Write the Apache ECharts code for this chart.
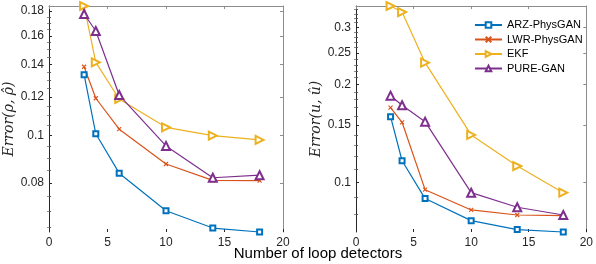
<!DOCTYPE html>
<html>
<head>
<meta charset="utf-8">
<script src="https://cdn.jsdelivr.net/npm/echarts@6/dist/echarts.min.js"></script>
<style>html,body{margin:0;padding:0;background:#fff}#c{width:596px;height:264px}</style>
</head>
<body>
<div id="c"></div>
<script>
// ---- data ----
var detectors = [3, 4, 6, 10, 14, 18];
var seriesNames = ['ARZ-PhysGAN', 'LWR-PhysGAN', 'EKF', 'PURE-GAN'];
var rhoARZ  = [0.1333, 0.1009, 0.0838, 0.0702, 0.0647, 0.0635];
var rhoLWR  = [0.1384, 0.1193, 0.1031, 0.0875, 0.0810, 0.0809];
var rhoEKF  = [0.1843, 0.1413, 0.1189, 0.1040, 0.1000, 0.0980];
var rhoPURE = [0.1775, 0.1638, 0.1211, 0.0953, 0.0820, 0.0830];
var uARZ  = [0.1592, 0.1165, 0.0891, 0.0762, 0.0715, 0.0703];
var uLWR  = [0.1697, 0.1530, 0.0949, 0.0822, 0.0793, 0.0789];
var uEKF  = [0.3490, 0.3344, 0.2335, 0.1399, 0.1122, 0.0929];
var uPURE = [0.1848, 0.1726, 0.1537, 0.0929, 0.0838, 0.0793];
var rhoTicks = [0.08, 0.1, 0.12, 0.14, 0.16, 0.18];
var uTicks = [0.1, 0.15, 0.2, 0.25, 0.3];
var xTickLabels = [0, 5, 10, 15, 20];
var xAxisTitle = 'Number of loop detectors';
var rhoTitle = 'Error(ρ, ρ̂)';
var uTitle = 'Error(u, û)';

// ---- styling ----
var colors = ['#0072BD', '#D95319', '#EDB120', '#7E2F8E'];
var FONT = 'Liberation Sans, Arial, Helvetica, sans-serif';
var dark = '#262626';
var gray = '#8c8c8c';

function minorList(lo, hi, step, majors) {
  var out = [];
  for (var k = Math.ceil(lo / step - 1e-9); k * step <= hi + 1e-9; k++) {
    var v = +(k * step).toFixed(4);
    if (majors.indexOf(v) < 0) out.push(v);
  }
  return out;
}
function fmt(v) { return String(+(+v).toPrecision(3)); }

var rhoAll = rhoARZ.concat(rhoLWR, rhoEKF, rhoPURE);
var uAll = uARZ.concat(uLWR, uEKF, uPURE);
var rhoMin = Math.min.apply(null, rhoAll), rhoMax = Math.max.apply(null, rhoAll);
var uMin = Math.min.apply(null, uAll), uMax = Math.max.apply(null, uAll);
var rhoMinor = minorList(rhoMin, rhoMax, 0.005, rhoTicks);
var uMinor = minorList(uMin, uMax, 0.01, uTicks);

var grids = [
  { left: 49, top: 6, width: 234, height: 226 },
  { left: 356, top: 6, width: 233, height: 226 }
];

var xAxes = [], yAxes = [];
[0, 1].forEach(function (g) {
  xAxes.push({
    type: 'value', gridIndex: g, min: 0, max: 20, interval: 5, position: 'bottom',
    axisLine: { show: false },
    axisTick: { show: true, inside: true, length: 3, lineStyle: { color: dark } },
    axisLabel: { show: true, color: dark, fontFamily: FONT, fontSize: 12, margin: 5,
      customValues: xTickLabels },
    splitLine: { show: false }
  });
  xAxes.push({
    type: 'value', gridIndex: g, min: 0, max: 20, interval: 5, position: 'top',
    axisLine: { show: true, onZero: false, lineStyle: { color: gray, width: 1 } },
    axisTick: { show: true, inside: true, length: 3, lineStyle: { color: gray } },
    axisLabel: { show: false }, splitLine: { show: false }
  });
});

function addY(g, lo, hi, majors, minors, title, gap) {
  var base = yAxes.length;
  yAxes.push({
    type: 'log', gridIndex: g, min: lo, max: hi, position: 'left',
    name: title, nameLocation: 'middle', nameGap: gap,
    nameTextStyle: { fontFamily: 'DejaVu Serif, serif', fontStyle: 'italic', fontSize: 14, color: dark },
    axisLine: { show: true, onZero: false, lineStyle: { color: dark, width: 1 } },
    axisTick: { show: true, inside: true, length: 3, customValues: majors, lineStyle: { color: dark } },
    axisLabel: { show: true, customValues: majors, formatter: fmt, color: dark, fontFamily: FONT, fontSize: 12, margin: 5 },
    splitLine: { show: false }
  });
  yAxes.push({
    type: 'log', gridIndex: g, min: lo, max: hi, position: 'left',
    axisLine: { show: false },
    axisTick: { show: true, inside: true, length: 2, customValues: minors, lineStyle: { color: '#555' } },
    axisLabel: { show: false }, splitLine: { show: false }
  });
  yAxes.push({
    type: 'log', gridIndex: g, min: lo, max: hi, position: 'right',
    axisLine: { show: true, onZero: false, lineStyle: { color: gray, width: 1 } },
    axisTick: { show: true, inside: true, length: 3, customValues: majors, lineStyle: { color: gray } },
    axisLabel: { show: false }, splitLine: { show: false }
  });
  yAxes.push({
    type: 'log', gridIndex: g, min: lo, max: hi, position: 'right',
    axisLine: { show: false },
    axisTick: { show: true, inside: true, length: 2, customValues: minors, lineStyle: { color: '#888' } },
    axisLabel: { show: false }, splitLine: { show: false }
  });
  return base;
}
var yRho = addY(0, rhoMin, rhoMax, rhoTicks, rhoMinor, rhoTitle, 32);
var yU = addY(1, uMin, uMax, uTicks, uMinor, uTitle, 28);

var symbols = [
  { symbol: 'emptyRect', size: 5, rotate: 0 },
  { symbol: 'path://M0,0L10,10M10,0L0,10', size: 4, rotate: 0 },
  { symbol: 'emptyTriangle', size: 8, rotate: -90 },
  { symbol: 'emptyTriangle', size: 8, rotate: 0 }
];

function pairs(vals) { return detectors.map(function (x, i) { return [x, vals[i]]; }); }

var groups = [
  { x: 0, y: yRho, data: [rhoARZ, rhoLWR, rhoEKF, rhoPURE] },
  { x: 2, y: yU, data: [uARZ, uLWR, uEKF, uPURE] }
];
var series = [];
groups.forEach(function (grp) {
  grp.data.forEach(function (vals, i) {
    var s = symbols[i];
    series.push({
      type: 'line', name: seriesNames[i], xAxisIndex: grp.x, yAxisIndex: grp.y,
      data: pairs(vals),
      symbol: s.symbol, symbolSize: s.size, symbolRotate: s.rotate, showAllSymbol: true,
      lineStyle: { color: colors[i], width: 1.2 },
      itemStyle: { color: colors[i], borderColor: colors[i], borderWidth: 1.1 },
      emphasis: { disabled: true }, animation: false, clip: false
    });
  });
});

var chart = echarts.init(document.getElementById('c'), null, { renderer: 'canvas' });
chart.setOption({
  animation: false,
  backgroundColor: '#fff',
  textStyle: { fontFamily: FONT },
  grid: grids,
  xAxis: xAxes,
  yAxis: yAxes,
  legend: {
    data: seriesNames, orient: 'vertical', left: 469, top: 14,
    itemWidth: 27, itemHeight: 7, itemGap: 2.5,
    textStyle: { fontFamily: FONT, fontSize: 11, color: '#000', lineHeight: 12 },
    selectedMode: false
  },
  graphic: [{
    type: 'text', x: 318, y: 254,
    style: { text: xAxisTitle, fontFamily: FONT, fontSize: 15, fill: '#000', textAlign: 'center', textVerticalAlign: 'middle' }
  }],
  series: series
});
</script>
</body>
</html>
